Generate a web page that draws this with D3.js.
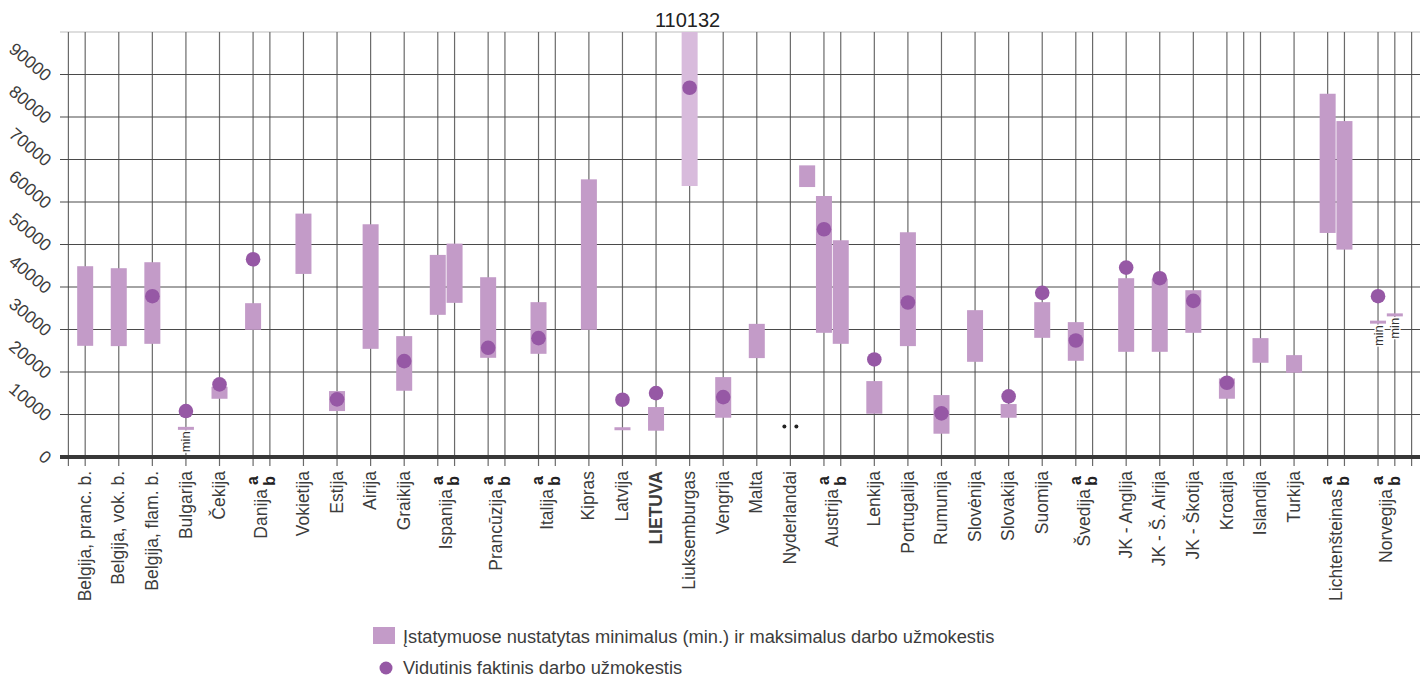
<!DOCTYPE html>
<html>
<head>
<meta charset="utf-8">
<script src="https://cdn.jsdelivr.net/npm/d3@7"></script>
<style>
  body { margin: 0; background: #fff; }
  svg { display: block; font-family: "Liberation Sans", Arial, sans-serif; }
  .x-label { font-size: 17.5px; fill: #3c3c3c; }
  .x-sub { font-size: 16px; font-weight: bold; fill: #222; }
  .y-label { font-size: 17.5px; fill: #3c3c3c; }
  .legend-text { font-size: 18.3px; fill: #3c3c3c; }
  .min-label { font-size: 13px; fill: #333; stroke: #fff; stroke-width: 3px; paint-order: stroke; }
</style>
</head>
<body>
<div id="chart"></div>
<script>
//////////////////////////////////////////////////////////////
//////////////////////////// Data ////////////////////////////
//////////////////////////////////////////////////////////////

// "" = tick without label, null = unticked slot
const names = ["", "Belgija, pranc. b.", "Belgija, vok. b.", "Belgija, flam. b.", "Bulgarija", "Čekija",
  "Danija", "Danija", "Vokietija", "Estija", "Airija", "Graikija", "Ispanija", "Ispanija",
  "Prancūzija", "Prancūzija", "Italija", "Italija", "Kipras", "Latvija", "LIETUVA", "Liuksemburgas",
  "Vengrija", "Malta", "Nyderlandai", null, "Austrija", "Austrija", "Lenkija", "Portugalija",
  "Rumunija", "Slovėnija", "Slovakija", "Suomija", "Švedija", "Švedija", "JK - Anglija",
  "JK - Š. Airija", "JK - Škotija", "Kroatija", "", "Islandija", "Turkija", "Lichtenšteinas",
  "Lichtenšteinas", "Norvegija", "Norvegija", ""]

const subs = ["", "", "", "", "", "", "a", "b", "", "", "", "", "a", "b", "a", "b", "a", "b",
  "", "", "", "", "", "", "", "", "a", "b", "", "", "", "", "", "", "a", "b",
  "", "", "", "", "", "", "", "a", "b", "a", "b", ""]

const minWage = [null, 26160, 26090, 26630, 6740, 13700, 29920, null, 43080, 10810, 25450, 15590,
  33450, 36270, 23340, null, 24280, null, 29920, 6650, 6190, 63760, 9240, 23270, null, 63520,
  29220, 26630, 10180, 26090, 5480, 22400, 9240, 28040, 22640, null, 24750, 24750, 29220, 13710,
  null, 22170, 19820, 52720, 48800, 31730, 33440, null]

const maxWage = [null, 44890, 44420, 45830, null, 16520, 36190, null, 57270, 15510, 54760, 28440,
  47550, 50210, 42300, null, 36430, null, 65330, null, 11750, 110132, 18800, 31330, null, 68620,
  61410, 51000, 17860, 52880, 14570, 34550, 12460, 36430, 31730, null, 42070, 41900, 39250, 18490,
  null, 27970, 23970, 85470, 79040, null, null, null]

const avgWage = [null, null, null, 37840, 10810, 17080, 46530, null, null, 13560, null, 22560,
  null, null, 25690, null, 27970, null, null, 13470, 15040, 86880, 14100, null, null, null,
  53580, null, 22950, 36350, 10270, null, 14260, 38620, 27420, null, 44570, 42070, 36740, 17470,
  null, null, null, null, null, 37840, null, null]

const minTagged = ["Bulgarija", "Norvegija a", "Norvegija b"]
const noData = ["Nyderlandai"]
const noDataLevel = 7200

const yTicks = [0, 10000, 20000, 30000, 40000, 50000, 60000, 70000, 80000, 90000]
const yMax = 100000

const legendLabels = ["Įstatymuose nustatytas minimalus (min.) ir maksimalus darbo užmokestis",
  "Vidutinis faktinis darbo užmokestis"]

//Colors
const colorBar = "#c39bc8"
const colorBarLight = "#d8bbdc"
const colorDot = "#9658a5"

//////////////////////////////////////////////////////////////
////////////////////////// Slots /////////////////////////////
//////////////////////////////////////////////////////////////

//single countries are two half-steps apart, "b" parts one
const slots = []
names.forEach((n, i) => {
    if (i === 0) { slots.push(0); return }
    const prev = names[i-1]
    const half = subs[i] === "b" || n === "" || n === null || prev === "" || prev === null
    slots.push(slots[i-1] + (half ? 1 : 2))
})

const rows = names.map((n, i) => ({
    name: n, sub: subs[i], slot: slots[i],
    min: minWage[i], max: maxWage[i], avg: avgWage[i],
    key: n + (subs[i] ? " " + subs[i] : "")
}))

//////////////////////////////////////////////////////////////
///////////////////////// Create SVG /////////////////////////
//////////////////////////////////////////////////////////////

const W = 1427
const H = 678
const plot = { left: 60, right: 1420, top: 32, bottom: 457 }

const svg = d3.select("#chart").append("svg")
    .attr("width", W)
    .attr("height", H)

const x = d3.scaleLinear()
    .domain([-0.5, d3.max(slots) + 0.5])
    .range([plot.left, plot.right])

const y = d3.scaleLinear()
    .domain([0, yMax])
    .range([plot.bottom, plot.top])

svg.append("defs").append("clipPath")
    .attr("id", "clip-plot")
    .append("rect")
    .attr("x", plot.left)
    .attr("y", plot.top)
    .attr("width", plot.right - plot.left)
    .attr("height", plot.bottom - plot.top)

//////////////////////////////////////////////////////////////
///////////////////////// Gridlines //////////////////////////
//////////////////////////////////////////////////////////////

const grid = svg.append("g").attr("class", "grid")

//top border
grid.append("line")
    .attr("x1", plot.left).attr("x2", plot.right)
    .attr("y1", plot.top).attr("y2", plot.top)
    .style("stroke", "#dedede").style("stroke-width", 2)

const ticked = rows.filter(d => d.name !== null)

grid.selectAll(".v-line")
    .data(ticked)
    .enter().append("line")
    .attr("class", "v-line")
    .attr("x1", d => x(d.slot)).attr("x2", d => x(d.slot))
    .attr("y1", plot.top).attr("y2", plot.bottom + 9)
    .style("stroke", "#6a6a6a").style("stroke-width", 1.2)

grid.selectAll(".h-line")
    .data(yTicks.filter(d => d > 0))
    .enter().append("line")
    .attr("class", "h-line")
    .attr("x1", plot.left).attr("x2", plot.right)
    .attr("y1", d => y(d)).attr("y2", d => y(d))
    .style("stroke", "#4a4a4a").style("stroke-width", 1.2)

//y labels, slanted
svg.selectAll(".y-label")
    .data(yTicks)
    .enter().append("text")
    .attr("class", "y-label")
    .attr("text-anchor", "end")
    .attr("transform", d => "translate(49," + (y(d) + 3) + ") rotate(40)")
    .attr("dy", "0.35em")
    .text(d => d)

//////////////////////////////////////////////////////////////
/////////////////////////// Bars /////////////////////////////
//////////////////////////////////////////////////////////////

const barW = 16

const bars = svg.append("g").attr("clip-path", "url(#clip-plot)")

bars.selectAll(".bar")
    .data(rows.filter(d => d.min !== null && d.max !== null))
    .enter().append("rect")
    .attr("class", "bar")
    .attr("x", d => x(d.slot) - barW/2)
    .attr("width", barW)
    .attr("y", d => y(d.max))
    .attr("height", d => y(d.min) - y(d.max))
    .style("fill", d => d.max > yMax ? colorBarLight : colorBar)

//only a minimum is set
bars.selectAll(".min-mark")
    .data(rows.filter(d => d.min !== null && d.max === null))
    .enter().append("rect")
    .attr("class", "min-mark")
    .attr("x", d => x(d.slot) - barW/2)
    .attr("width", barW)
    .attr("y", d => y(d.min) - 1.5)
    .attr("height", 3)
    .style("fill", colorBar)

svg.selectAll(".min-label")
    .data(rows.filter(d => minTagged.includes(d.key)))
    .enter().append("text")
    .attr("class", "min-label")
    .attr("text-anchor", "end")
    .attr("transform", d => "translate(" + x(d.slot) + "," + (y(d.min) + 3) + ") rotate(-90)")
    .attr("dy", "0.35em")
    .text("min")

//value of bars running off the top
svg.selectAll(".over-label")
    .data(rows.filter(d => d.max > yMax))
    .enter().append("text")
    .attr("class", "over-label")
    .attr("x", d => x(d.slot) - 2)
    .attr("y", plot.top - 5)
    .attr("text-anchor", "middle")
    .style("font-size", "20px")
    .style("fill", "#222")
    .text(d => d.max)

//no data marker
const nd = svg.selectAll(".no-data")
    .data(rows.filter(d => noData.includes(d.name)))
    .enter().append("g")
    .attr("transform", d => "translate(" + x(d.slot) + "," + y(noDataLevel) + ")")
nd.append("circle").attr("cx", -6).attr("r", 2).style("fill", "#222")
nd.append("circle").attr("cx", 6).attr("r", 2).style("fill", "#222")

//////////////////////////////////////////////////////////////
/////////////////////////// Dots /////////////////////////////
//////////////////////////////////////////////////////////////

svg.selectAll(".dot")
    .data(rows.filter(d => d.avg !== null))
    .enter().append("circle")
    .attr("class", "dot")
    .attr("cx", d => x(d.slot))
    .attr("cy", d => y(d.avg))
    .attr("r", 7.3)
    .style("fill", colorDot)

//baseline
svg.append("line")
    .attr("x1", plot.left).attr("x2", plot.right)
    .attr("y1", y(0)).attr("y2", y(0))
    .style("stroke", "#383838").style("stroke-width", 4)

//////////////////////////////////////////////////////////////
////////////////////////// X labels //////////////////////////
//////////////////////////////////////////////////////////////

const labelled = rows.filter(d => d.name && d.sub !== "b")

svg.selectAll(".x-label")
    .data(labelled)
    .enter().append("text")
    .attr("class", "x-label")
    .attr("text-anchor", "end")
    .attr("transform", d => {
        const cx = d.sub === "a" ? x(d.slot + 0.5) : x(d.slot)
        const top = d.sub === "a" ? plot.bottom + 32 : plot.bottom + 14
        return "translate(" + cx + "," + top + ") rotate(-90)"
    })
    .attr("dy", "0.32em")
    .style("font-weight", d => d.name === "LIETUVA" ? "bold" : null)
    .text(d => d.name)

svg.selectAll(".x-sub")
    .data(rows.filter(d => d.sub))
    .enter().append("text")
    .attr("class", "x-sub")
    .attr("text-anchor", "end")
    .attr("transform", d => "translate(" + x(d.slot) + "," + (plot.bottom + 19) + ") rotate(-90)")
    .attr("dy", "0.3em")
    .text(d => d.sub)

//////////////////////////////////////////////////////////////
/////////////////////////// Legend ///////////////////////////
//////////////////////////////////////////////////////////////

const legend = svg.append("g").attr("transform", "translate(373,627)")

legend.append("rect")
    .attr("width", 22).attr("height", 17)
    .style("fill", colorBar)
legend.append("text")
    .attr("class", "legend-text")
    .attr("x", 30).attr("y", 15.5)
    .text(legendLabels[0])

legend.append("circle")
    .attr("cx", 13).attr("cy", 41)
    .attr("r", 6.5)
    .style("fill", colorDot)
legend.append("text")
    .attr("class", "legend-text")
    .attr("x", 30).attr("y", 46.5)
    .text(legendLabels[1])
</script>
</body>
</html>
